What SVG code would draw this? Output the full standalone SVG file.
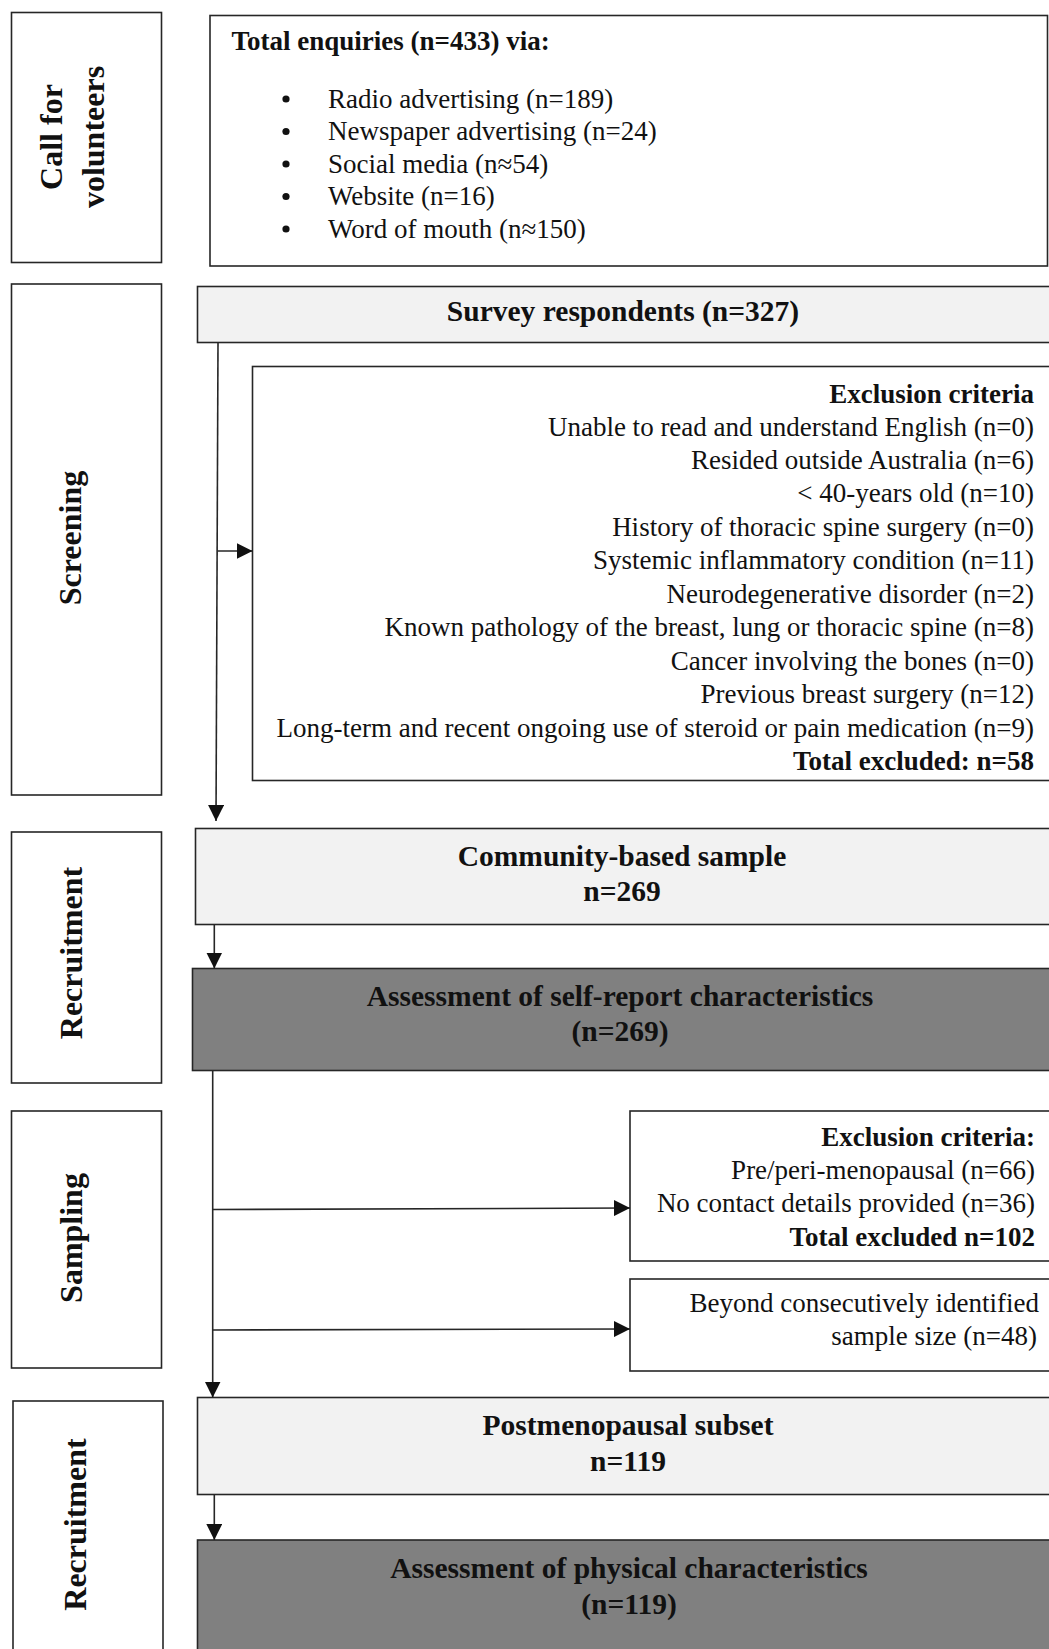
<svg xmlns="http://www.w3.org/2000/svg" width="1049" height="1649" viewBox="0 0 1049 1649">
<style>
  .box { fill: #ffffff; stroke: #262626; stroke-width: 1.6; }
  .light { fill: #f2f2f2; stroke: #262626; stroke-width: 1.6; }
  .dark { fill: #808080; stroke: #262626; stroke-width: 1.6; }
  .lbl { font-family: "Liberation Serif", "Times New Roman", serif; font-weight: bold; font-size: 32px; fill: #111; }
  .hdr { font-family: "Liberation Serif", "Times New Roman", serif; font-weight: bold; font-size: 29.5px; fill: #111; text-anchor: middle; }
  .txt { font-family: "Liberation Serif", "Times New Roman", serif; font-size: 27px; fill: #111; }
  .dot { fill: #111; }
  .b { font-weight: bold; }
  .end { text-anchor: end; }
  .conn { fill: none; stroke: #262626; stroke-width: 1.6; }
</style>
<defs>
  <marker id="arr" markerUnits="userSpaceOnUse" viewBox="0 0 16 16" refX="16" refY="8" markerWidth="16" markerHeight="16" orient="auto">
    <path d="M0,0 L16,8 L0,16 z" fill="#111"/>
  </marker>
</defs>
<rect width="1049" height="1649" fill="#ffffff"/>

<!-- Stage labels -->
<g id="stage-call">
  <rect class="box" x="11.5" y="12.5" width="150" height="250"/>
  <text class="lbl" text-anchor="middle" transform="translate(62,137) rotate(-90)">Call for</text>
  <text class="lbl" text-anchor="middle" transform="translate(104,137) rotate(-90)">volunteers</text>
</g>
<g id="stage-screening">
  <rect class="box" x="11.5" y="284" width="150" height="511"/>
  <text class="lbl" text-anchor="middle" transform="translate(81,538) rotate(-90)">Screening</text>
</g>
<g id="stage-recruitment-1">
  <rect class="box" x="11.5" y="832" width="150" height="251"/>
  <text class="lbl" text-anchor="middle" transform="translate(82,953) rotate(-90)">Recruitment</text>
</g>
<g id="stage-sampling">
  <rect class="box" x="11.5" y="1111" width="150" height="257"/>
  <text class="lbl" text-anchor="middle" transform="translate(82,1238) rotate(-90)">Sampling</text>
</g>
<g id="stage-recruitment-2">
  <rect class="box" x="13" y="1401" width="150" height="260"/>
  <text class="lbl" text-anchor="middle" transform="translate(86,1524.5) rotate(-90)">Recruitment</text>
</g>

<!-- Nodes -->
<g id="enquiries">
  <rect class="box" x="210" y="15.5" width="837.5" height="250.5"/>
  <text class="txt b" x="231.5" y="50" font-size="26">Total enquiries (n=433) via:</text>
  <circle class="dot" cx="286" cy="99" r="3.6"/>
  <circle class="dot" cx="286" cy="131.5" r="3.6"/>
  <circle class="dot" cx="286" cy="164" r="3.6"/>
  <circle class="dot" cx="286" cy="196.5" r="3.6"/>
  <circle class="dot" cx="286" cy="229" r="3.6"/>
  <text class="txt" x="328" y="107.5">Radio advertising (n=189)</text>
  <text class="txt" x="328" y="140">Newspaper advertising (n=24)</text>
  <text class="txt" x="328" y="172.5">Social media (n≈54)</text>
  <text class="txt" x="328" y="205">Website (n=16)</text>
  <text class="txt" x="328" y="237.5">Word of mouth (n≈150)</text>
</g>

<g id="survey">
  <rect class="light" x="197.5" y="286.5" width="856" height="56"/>
  <text class="hdr" x="623" y="321">Survey respondents (n=327)</text>
</g>

<g id="exclusion-1">
  <rect class="box" x="252.5" y="366.5" width="800" height="414"/>
  <text class="txt b end" x="1034" y="402.5">Exclusion criteria</text>
  <text class="txt end" x="1034" y="435.5">Unable to read and understand English (n=0)</text>
  <text class="txt end" x="1034" y="469">Resided outside Australia (n=6)</text>
  <text class="txt end" x="1034" y="502.4">&lt; 40-years old (n=10)</text>
  <text class="txt end" x="1034" y="535.8">History of thoracic spine surgery (n=0)</text>
  <text class="txt end" x="1034" y="569.2">Systemic inflammatory condition (n=11)</text>
  <text class="txt end" x="1034" y="602.7">Neurodegenerative disorder (n=2)</text>
  <text class="txt end" x="1034" y="636.1">Known pathology of the breast, lung or thoracic spine (n=8)</text>
  <text class="txt end" x="1034" y="669.6">Cancer involving the bones (n=0)</text>
  <text class="txt end" x="1034" y="703">Previous breast surgery (n=12)</text>
  <text class="txt end" x="1034" y="736.5">Long-term and recent ongoing use of steroid or pain medication (n=9)</text>
  <text class="txt b end" x="1034" y="770">Total excluded: n=58</text>
</g>

<g id="community">
  <rect class="light" x="195.5" y="828.5" width="858" height="96"/>
  <text class="hdr" x="622" y="866">Community-based sample</text>
  <text class="hdr" x="622" y="901">n=269</text>
</g>

<g id="self-report">
  <rect class="dark" x="192.5" y="968.5" width="861" height="102"/>
  <text class="hdr" x="620" y="1006">Assessment of self-report characteristics</text>
  <text class="hdr" x="620" y="1041">(n=269)</text>
</g>

<g id="exclusion-2">
  <rect class="box" x="630" y="1111" width="423" height="150"/>
  <text class="txt b end" x="1035" y="1145.5">Exclusion criteria:</text>
  <text class="txt end" x="1035" y="1178.8">Pre/peri-menopausal (n=66)</text>
  <text class="txt end" x="1035" y="1212.2">No contact details provided (n=36)</text>
  <text class="txt b end" x="1035" y="1245.5">Total excluded n=102</text>
</g>

<g id="beyond-sample">
  <rect class="box" x="630" y="1279" width="423" height="92"/>
  <text class="txt end" x="1039" y="1312">Beyond consecutively identified</text>
  <text class="txt end" x="1037" y="1345">sample size (n=48)</text>
</g>

<g id="postmenopausal">
  <rect class="light" x="197.5" y="1397.5" width="856" height="97"/>
  <text class="hdr" x="628" y="1435">Postmenopausal subset</text>
  <text class="hdr" x="628" y="1471">n=119</text>
</g>

<g id="physical">
  <rect class="dark" x="197.5" y="1540" width="856" height="120"/>
  <text class="hdr" x="629" y="1577.5">Assessment of physical characteristics</text>
  <text class="hdr" x="629" y="1613.5">(n=119)</text>
</g>

<!-- Connectors -->
<g id="connectors">
  <line class="conn" x1="218" y1="342.5" x2="216" y2="821" marker-end="url(#arr)"/>
  <line class="conn" x1="217.5" y1="551" x2="252.5" y2="551" marker-end="url(#arr)"/>
  <line class="conn" x1="214.3" y1="924.5" x2="214.3" y2="968.5" marker-end="url(#arr)"/>
  <line class="conn" x1="212.7" y1="1070.5" x2="212.7" y2="1397.5" marker-end="url(#arr)"/>
  <line class="conn" x1="212.7" y1="1209.5" x2="630" y2="1208" marker-end="url(#arr)"/>
  <line class="conn" x1="212.7" y1="1330" x2="630" y2="1329" marker-end="url(#arr)"/>
  <line class="conn" x1="214.3" y1="1494.5" x2="214.3" y2="1540" marker-end="url(#arr)"/>
</g>
</svg>
